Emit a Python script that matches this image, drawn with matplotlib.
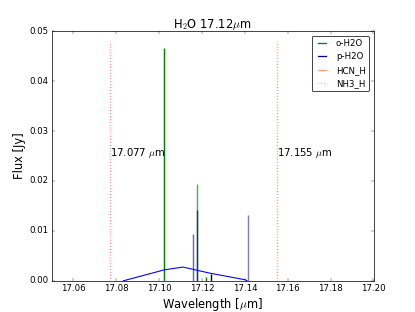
import numpy as np
import matplotlib.pyplot as plt
from matplotlib.ticker import ScalarFormatter

plt.style.use('classic')

# line positions [um] and peak fluxes [Jy]
o_wave = [17.1025, 17.1175, 17.1217]
o_flux = [0.0466, 0.0194, 0.0007]
o_alpha = [1.0, 0.65, 1.0]

p_wave = [17.1157, 17.1175, 17.1240, 17.1414]
p_flux = [0.0093, 0.0142, 0.0014, 0.0132]
p_alpha = [0.6, 0.7, 1.0, 0.5]

# convolved profile
conv_wave = [17.0833, 17.1025, 17.1111, 17.1240, 17.1402, 17.1410]
conv_flux = [0.0, 0.0022, 0.00275, 0.0015, 0.0002, 0.0]

bounds = [17.077, 17.155]
bound_top = 0.048

fig = plt.figure(figsize=(415 / 52, 312 / 52), dpi=52)
ax = fig.add_subplot(111)

for w, f, a in zip(o_wave, o_flux, o_alpha):
    ax.vlines(w, 0, f, color='green', alpha=a, lw=2)
for w, f, a in zip(p_wave, p_flux, p_alpha):
    ax.vlines(w, 0, f, color='navy', alpha=a, lw=2)

ax.plot(conv_wave, conv_flux, color='blue', lw=1.5)

for b in bounds:
    ax.vlines(b, 0, bound_top, color='red', linestyle=':', lw=2, alpha=0.6)
    ax.text(b, 0.025, '%.3f $\\mu$m' % b, fontsize=14)

# legend handles
ax.plot([], [], color='green', lw=1.8, label='o-H2O')
ax.plot([], [], color='navy', lw=1.8, label='p-H2O')
ax.plot([], [], color='lightsalmon', lw=1.8, label='HCN_H')
ax.plot([], [], color='violet', linestyle=':', lw=1.8, label='NH3_H')
ax.legend(loc='upper right', fontsize=12, handlelength=1.6, fancybox=True)

ax.set_xlim(17.05, 17.20)
ax.set_ylim(0, 0.05)
ax.set_xticks(np.arange(17.06, 17.201, 0.02))
fmt = ScalarFormatter(useOffset=False)
ax.xaxis.set_major_formatter(fmt)
ax.set_xlabel('Wavelength [$\\mu$m]', fontsize=16)
ax.set_ylabel('Flux [Jy]', fontsize=16)
ax.set_title('H$_2$O 17.12$\\mu$m', fontsize=16)

plt.savefig('out.png', dpi=52)
